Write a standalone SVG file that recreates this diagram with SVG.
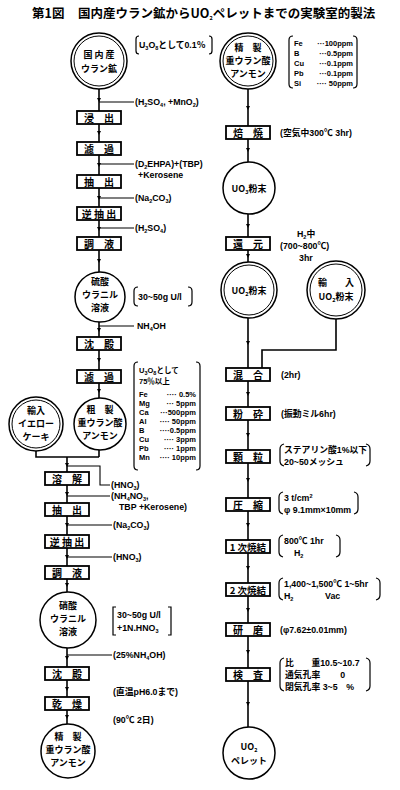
<svg xmlns="http://www.w3.org/2000/svg" width="400" height="790" viewBox="0 0 400 790">
<defs>
<marker id="ah" viewBox="0 0 6 6" refX="3" refY="3" markerWidth="4" markerHeight="4" orient="auto" markerUnits="userSpaceOnUse">
<path d="M0,0 L6,3 L0,6 z" fill="#000"/>
</marker>
<style>
.bx{fill:#fff;stroke:#000;stroke-width:1.8}
.c{fill:#fff;stroke:#000;stroke-width:1.5}
.ci{fill:none;stroke:#000;stroke-width:1}
.ln{fill:none;stroke:#000;stroke-width:1.6;marker-mid:url(#ah)}
.pl{fill:none;stroke:#000;stroke-width:1.6}
.in{fill:none;stroke:#000;stroke-width:1.1}
.br{fill:none;stroke:#000;stroke-width:1.2}
text{font-family:"Noto Sans CJK JP","DejaVu Sans",sans-serif;font-weight:bold;fill:#000}
.t{font-size:10px;text-anchor:middle}
.t4{font-size:9.5px;text-anchor:middle}
.ct{font-size:9px;text-anchor:middle}
.a{font-size:8.8px;font-family:"Liberation Sans","Noto Sans CJK JP",sans-serif}
.l{font-size:7.5px;font-family:"Liberation Sans","Noto Sans CJK JP",sans-serif}
.ti{font-size:12.5px}
.s{font-size:5.5px;baseline-shift:-2px}
</style>
</defs>

<text class="ti" x="32" y="18">第1図</text>
<text class="ti" x="78" y="18">国内産ウラン鉱からUO<tspan class="s">2</tspan>ペレットまでの実験室的製法</text>

<g id="connectors">
<path class="ln" d="M99,89 L99,100 L99,111"/>
<path class="ln" d="M99,124 L99,133 L99,142"/>
<path class="ln" d="M99,155 L99,165 L99,175"/>
<path class="ln" d="M99,188 L99,198 L99,207"/>
<path class="ln" d="M99,220 L99,229 L99,237"/>
<path class="ln" d="M99,250 L99,261 L99,272"/>
<path class="ln" d="M99,322 L99,330 L99,337"/>
<path class="ln" d="M99,350 L99,360 L99,370"/>
<path class="ln" d="M99,383 L99,391 L99,398"/>
<path class="pl" d="M99,450 L99,457"/>
<path class="pl" d="M36,451 L36,457 L99,457"/>
<path class="ln" d="M67,457 L67,465 L67,472"/>
<path class="in" d="M99,102 H134"/>
<path class="in" d="M99,164 H134"/>
<path class="in" d="M99,198 H134"/>
<path class="in" d="M99,228 H134"/>
<path class="in" d="M99,326 H134"/>
<path class="ln" d="M67,485 L67,494 L67,503"/>
<path class="ln" d="M67,516 L67,525 L67,535"/>
<path class="ln" d="M67,548 L67,557 L67,566"/>
<path class="ln" d="M67,579 L67,585 L67,592"/>
<path class="ln" d="M67,648 L67,658 L67,667"/>
<path class="ln" d="M67,680 L67,689 L67,697"/>
<path class="ln" d="M67,710 L67,717 L67,724"/>
<path class="in" d="M67,466 H100 V485 H110"/>
<path class="in" d="M67,496 H110"/>
<path class="in" d="M67,525 H112"/>
<path class="in" d="M67,557 H112"/>
<path class="in" d="M67,655 H112"/>
<path class="ln" d="M248,89 L248,108 L248,126"/>
<path class="ln" d="M248,139 L248,150 L248,162"/>
<path class="ln" d="M248,214 L248,226 L248,237"/>
<path class="ln" d="M248,250 L248,256 L248,262"/>
<path class="ln" d="M248,318 L248,343 L248,368"/>
<path class="pl" d="M336,319 L336,350 L262,350 L262,368"/>
<path class="ln" d="M248,381 L248,394 L248,407"/>
<path class="ln" d="M248,420 L248,435 L248,450"/>
<path class="ln" d="M248,463 L248,480 L248,498"/>
<path class="ln" d="M248,511 L248,525 L248,540"/>
<path class="ln" d="M248,553 L248,568 L248,583"/>
<path class="ln" d="M248,596 L248,610 L248,623"/>
<path class="ln" d="M248,636 L248,652 L248,668"/>
<path class="ln" d="M248,681 L248,704 L248,727"/>
</g>

<g id="n_domestic_ore">
<circle class="c" cx="99" cy="61" r="28"/><circle class="ci" cx="99" cy="61" r="25"/>
<text class="ct" x="99" y="58">国 内 産</text>
<text class="ct" x="99" y="72">ウラン鉱</text>
</g>
<g id="note_ore">
<text class="a" x="139" y="48">U<tspan class="s">3</tspan>O<tspan class="s">8</tspan>として0.1％</text>
<path class="br" d="M139,36 q-3,0 -3,3 v12 q0,3 3,3"/>
<path class="br" d="M209,36 q3,0 3,3 v12 q0,3 -3,3"/>
</g>
<g id="n_leach"><rect class="bx" x="77" y="111" width="44" height="13"/><text class="t" x="99" y="121.5">浸　出</text></g>
<text class="a" x="135" y="105">(H<tspan class="s">2</tspan>SO<tspan class="s">4</tspan>, +MnO<tspan class="s">2</tspan>)</text>
<g id="n_filter1"><rect class="bx" x="77" y="142" width="44" height="13"/><text class="t" x="99" y="152.5">濾　過</text></g>
<text class="a" x="135" y="167">(D<tspan class="s">2</tspan>EHPA)+(TBP)</text>
<text class="a" x="138" y="178">+Kerosene</text>
<g id="n_extract1"><rect class="bx" x="77" y="175" width="44" height="13"/><text class="t" x="99" y="185.5">抽　出</text></g>
<text class="a" x="135" y="201">(Na<tspan class="s">2</tspan>CO<tspan class="s">3</tspan>)</text>
<g id="n_strip1"><rect class="bx" x="77" y="207" width="44" height="13"/><text class="t" x="99" y="217.5">逆 抽 出</text></g>
<text class="a" x="135" y="231">(H<tspan class="s">2</tspan>SO<tspan class="s">4</tspan>)</text>
<g id="n_adjust1"><rect class="bx" x="77" y="237" width="44" height="13"/><text class="t" x="99" y="247.5">調　液</text></g>
<g id="n_uranyl_sulfate">
<circle class="c" cx="100" cy="297" r="25"/>
<text class="ct" x="100" y="285">硫酸</text>
<text class="ct" x="100" y="298">ウラニル</text>
<text class="ct" x="100" y="311">溶液</text>
</g>
<g id="note_us">
<text class="a" x="138" y="300">30~50g U/l</text>
<path class="br" d="M138,287 q-4,0 -4,4 v11 q0,4 4,4"/>
<path class="br" d="M188,287 q4,0 4,4 v11 q0,4 -4,4"/>
</g>
<text class="a" x="137" y="329">NH<tspan class="s">4</tspan>OH</text>
<g id="n_precip1"><rect class="bx" x="77" y="337" width="44" height="13"/><text class="t" x="99" y="347.5">沈　殿</text></g>
<g id="n_filter2"><rect class="bx" x="77" y="370" width="44" height="13"/><text class="t" x="99" y="380.5">濾　過</text></g>
<g id="note_crude">
<path class="br" d="M138,362 q-4,0 -4,4 v100 q0,4 4,4"/>
<path class="br" d="M196,362 q4,0 4,4 v100 q0,4 -4,4"/>
<text class="l" x="139" y="373">U<tspan class="s">3</tspan>O<tspan class="s">8</tspan>として</text>
<text class="l" x="139" y="384">75％以上</text>
<text class="l" x="139" y="397">Fe</text><text class="l" x="196" y="397" text-anchor="end">····   0.5%</text>
<text class="l" x="139" y="406">Mg</text><text class="l" x="196" y="406" text-anchor="end">···   5ppm</text>
<text class="l" x="139" y="415">Ca</text><text class="l" x="196" y="415" text-anchor="end">···500ppm</text>
<text class="l" x="139" y="424">Al</text><text class="l" x="196" y="424" text-anchor="end">···· 50ppm</text>
<text class="l" x="139" y="433">B</text><text class="l" x="196" y="433" text-anchor="end">····0.5ppm</text>
<text class="l" x="139" y="442">Cu</text><text class="l" x="196" y="442" text-anchor="end">····   3ppm</text>
<text class="l" x="139" y="451">Pb</text><text class="l" x="196" y="451" text-anchor="end">····   1ppm</text>
<text class="l" x="139" y="460">Mn</text><text class="l" x="196" y="460" text-anchor="end">···· 10ppm</text>
</g>
<g id="n_yellowcake">
<circle class="c" cx="36" cy="424" r="27"/><circle class="ci" cx="36" cy="424" r="24"/>
<text class="ct" x="36" y="414">輸入</text>
<text class="ct" x="36" y="427">イエロー</text>
<text class="ct" x="36" y="440">ケーキ</text>
</g>
<g id="n_crude_adu">
<circle class="c" cx="100" cy="424" r="26"/>
<text class="ct" x="100" y="413">粗　製</text>
<text class="ct" x="100" y="426">重ウラン酸</text>
<text class="ct" x="100" y="439">アンモン</text>
</g>

<g id="n_dissolve"><rect class="bx" x="45" y="472" width="44" height="13"/><text class="t" x="67" y="482.5">溶　解</text></g>
<text class="a" x="111" y="488">(HNO<tspan class="s">3</tspan>)</text>
<text class="a" x="111" y="499">(NH<tspan class="s">4</tspan>NO<tspan class="s">3</tspan>,</text>
<text class="a" x="119" y="510">TBP +Kerosene)</text>
<g id="n_extract2"><rect class="bx" x="45" y="503" width="44" height="13"/><text class="t" x="67" y="513.5">抽　出</text></g>
<text class="a" x="113" y="528">(Na<tspan class="s">2</tspan>CO<tspan class="s">3</tspan>)</text>
<g id="n_strip2"><rect class="bx" x="45" y="535" width="44" height="13"/><text class="t" x="67" y="545.5">逆 抽 出</text></g>
<text class="a" x="113" y="560">(HNO<tspan class="s">3</tspan>)</text>
<g id="n_adjust2"><rect class="bx" x="45" y="566" width="44" height="13"/><text class="t" x="67" y="576.5">調　液</text></g>
<g id="n_uranyl_nitrate">
<circle class="c" cx="68" cy="620" r="28"/>
<text class="ct" x="68" y="609">硝酸</text>
<text class="ct" x="68" y="622">ウラニル</text>
<text class="ct" x="68" y="635">溶液</text>
</g>
<g id="note_un">
<text class="a" x="117" y="618">30~50g U/l</text>
<text class="a" x="117" y="631">+1N.HNO<tspan class="s">3</tspan></text>
<path class="br" d="M116,607 h-3 v28 h3"/>
<path class="br" d="M168,607 h3 v28 h-3"/>
</g>
<text class="a" x="113" y="658">(25%NH<tspan class="s">4</tspan>OH)</text>
<g id="n_precip2"><rect class="bx" x="45" y="667" width="44" height="13"/><text class="t" x="67" y="677.5">沈　殿</text></g>
<text class="a" x="113" y="695">(直温pH6.0まで)</text>
<g id="n_dry"><rect class="bx" x="45" y="697" width="44" height="13"/><text class="t" x="67" y="707.5">乾　燥</text></g>
<text class="a" x="113" y="723">(90℃ 2日)</text>
<g id="n_pure_adu2">
<circle class="c" cx="68" cy="751" r="27"/>
<text class="ct" x="68" y="740">精　製</text>
<text class="ct" x="68" y="753">重ウラン酸</text>
<text class="ct" x="68" y="766">アンモン</text>
</g>

<g id="n_pure_adu">
<circle class="c" cx="248" cy="61" r="28"/><circle class="ci" cx="248" cy="61" r="25"/>
<text class="ct" x="248" y="51">精　製</text>
<text class="ct" x="248" y="64">重ウラン酸</text>
<text class="ct" x="248" y="77">アンモン</text>
</g>
<g id="note_pure">
<path class="br" d="M293,36 q-4,0 -4,4 v44 q0,4 4,4"/>
<path class="br" d="M353,36 q4,0 4,4 v44 q0,4 -4,4"/>
<text class="l" x="294" y="46">Fe</text><text class="l" x="353" y="46" text-anchor="end">···100ppm</text>
<text class="l" x="294" y="56">B</text><text class="l" x="353" y="56" text-anchor="end">···0.5ppm</text>
<text class="l" x="294" y="66">Cu</text><text class="l" x="353" y="66" text-anchor="end">···0.1ppm</text>
<text class="l" x="294" y="76">Pb</text><text class="l" x="353" y="76" text-anchor="end">···0.1ppm</text>
<text class="l" x="294" y="86">Si</text><text class="l" x="353" y="86" text-anchor="end">···· 50ppm</text>
</g>
<g id="n_roast"><rect class="bx" x="226" y="126" width="44" height="13"/><text class="t" x="248" y="136.5">焙　焼</text></g>
<text class="a" x="280" y="136">(空気中300℃ 3hr)</text>
<g id="n_uo3">
<circle class="c" cx="249" cy="188" r="26"/>
<text class="ct" x="249" y="192">UO<tspan class="s">3</tspan>粉末</text>
</g>
<g id="n_reduce"><rect class="bx" x="226" y="237" width="44" height="13"/><text class="t" x="248" y="247.5">還　元</text></g>
<text class="a" x="297" y="237">H<tspan class="s">2</tspan>中</text>
<text class="a" x="280" y="249">(700~800℃)</text>
<text class="a" x="299" y="261">3hr</text>
<g id="n_uo2">
<circle class="c" cx="249" cy="290" r="28"/><circle class="ci" cx="249" cy="290" r="25"/>
<text class="ct" x="249" y="294">UO<tspan class="s">2</tspan>粉末</text>
</g>
<g id="n_import_uo2">
<circle class="c" cx="336" cy="290" r="29"/><circle class="ci" cx="336" cy="290" r="26"/>
<text class="ct" x="336" y="286">輸　　入</text>
<text class="ct" x="336" y="300">UO<tspan class="s">2</tspan>粉末</text>
</g>
<g id="n_mix"><rect class="bx" x="226" y="368" width="44" height="13"/><text class="t" x="248" y="378.5">混　合</text></g>
<text class="a" x="281" y="378">(2hr)</text>
<g id="n_mill"><rect class="bx" x="226" y="407" width="44" height="13"/><text class="t" x="248" y="417.5">粉　砕</text></g>
<text class="a" x="281" y="417">(振動ミル6hr)</text>
<g id="n_granule"><rect class="bx" x="226" y="450" width="44" height="13"/><text class="t" x="248" y="460.5">顆　粒</text></g>
<g id="note_gran">
<text class="a" x="284" y="453">ステアリン酸1%以下</text>
<text class="a" x="284" y="465">20~50メッシュ</text>
<path class="br" d="M284,444 q-4,1 -4,5 v12 q0,4 4,5"/>
<path class="br" d="M366,444 q4,1 4,5 v12 q0,4 -4,5"/>
</g>
<g id="n_press"><rect class="bx" x="226" y="498" width="44" height="13"/><text class="t" x="248" y="508.5">圧　縮</text></g>
<g id="note_press">
<text class="a" x="284" y="501">3 t/cm<tspan font-size="5.5" baseline-shift="3">2</tspan></text>
<text class="a" x="284" y="513">φ  9.1mm×10mm</text>
<path class="br" d="M283,492 q-4,1 -4,5 v12 q0,4 4,5"/>
<path class="br" d="M354,492 q4,1 4,5 v12 q0,4 -4,5"/>
</g>
<g id="n_sinter1"><rect class="bx" x="226" y="540" width="44" height="13"/><text class="t4" x="248" y="550.5">1 次焼結</text></g>
<g id="note_s1">
<text class="a" x="284" y="544">800℃   1hr</text>
<text class="a" x="294" y="556">H<tspan class="s">2</tspan></text>
<path class="br" d="M283,535 q-4,1 -4,5 v12 q0,4 4,5"/>
<path class="br" d="M336,535 q4,1 4,5 v12 q0,4 -4,5"/>
</g>
<g id="n_sinter2"><rect class="bx" x="226" y="583" width="44" height="13"/><text class="t4" x="248" y="593.5">2 次焼結</text></g>
<g id="note_s2">
<text class="a" x="284" y="587">1,400~1,500℃  1~5hr</text>
<text class="a" x="284" y="599">H<tspan class="s">2</tspan></text>
<text class="a" x="325" y="599">Vac</text>
<path class="br" d="M283,578 q-4,1 -4,5 v12 q0,4 4,5"/>
<path class="br" d="M376,578 q4,1 4,5 v12 q0,4 -4,5"/>
</g>
<g id="n_grind"><rect class="bx" x="226" y="623" width="44" height="13"/><text class="t" x="248" y="633.5">研　磨</text></g>
<text class="a" x="280" y="633">(φ7.62±0.01mm)</text>
<g id="n_inspect"><rect class="bx" x="226" y="668" width="44" height="13"/><text class="t" x="248" y="678.5">検　査</text></g>
<g id="note_insp">
<text class="a" x="285" y="666">比　　重10.5~10.7</text>
<text class="a" x="285" y="678">通気孔率　　 0</text>
<text class="a" x="285" y="690">閉気孔率 3~5　%</text>
<path class="br" d="M284,658 q-4,1 -4,5 v23 q0,4 4,5"/>
<path class="br" d="M366,658 q4,1 4,5 v23 q0,4 -4,5"/>
</g>
<g id="n_pellet">
<circle class="c" cx="249" cy="753" r="26"/>
<text class="ct" x="249" y="750">UO<tspan class="s">2</tspan></text>
<text class="ct" x="249" y="764">ペレット</text>
</g>
</svg>
